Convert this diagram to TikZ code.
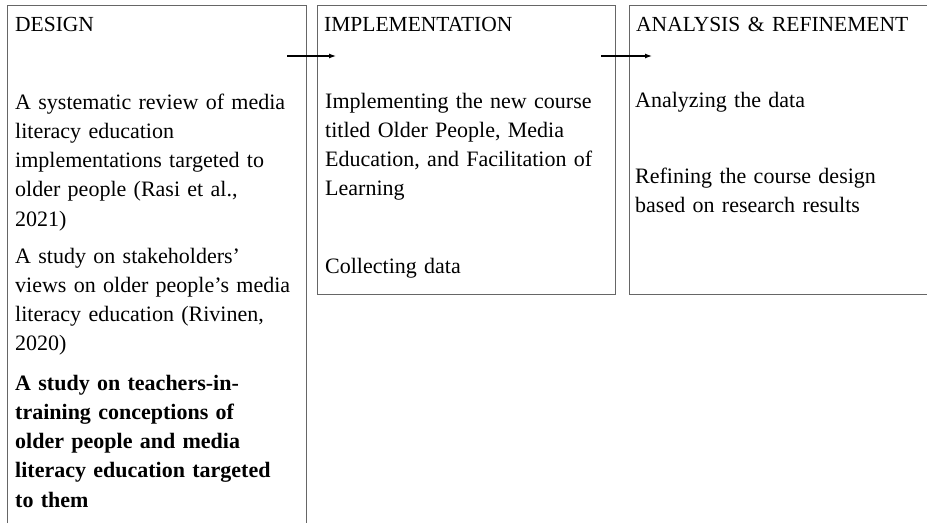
\documentclass[tikz,border=0pt]{standalone}
\usepackage{fontspec}
\setmainfont{Liberation Serif}[WordSpace=1.4]
\usetikzlibrary{arrows.meta}
\begin{document}
\begin{tikzpicture}[x=1pt,y=-1pt,
  frame/.style={draw=black!60,line width=1pt},
  txt/.style={anchor=base west,inner sep=0pt,text width=300pt,align=left,font=\fontsize{22}{29.3}\selectfont},
  boldtxt/.style={txt,font=\fontsize{22}{29.3}\selectfont\bfseries},
  head/.style={anchor=base west,inner sep=0pt,font=\fontsize{21.5}{26}\selectfont},
  flow/.style={-{Latex[length=7pt,width=5pt]},line width=1.2pt}]
\useasboundingbox (0,0) rectangle (927,523);
% frames
\draw[frame] (7,523) -- (7,5) -- (306,5) -- (306,523);
\draw[frame] (317,5) rectangle (615,294);
\draw[frame] (927,5) -- (629,5) -- (629,294) -- (927,294);
% headers
\node[head] (hd) at (15,31) {DESIGN};
\node[head] (hi) at (324,31) {IMPLEMENTATION};
\node[head] (ha) at (636,31) {ANALYSIS \& REFINEMENT};
% design
\node[txt] (d1) at (15,109) {A systematic review of media\\literacy education\\implementations targeted to\\older people (Rasi et al.,\\2021)};
\node[txt] (d2) at (15,263) {A study on stakeholders’\\views on older people’s media\\literacy education (Rivinen,\\2020)};
\node[boldtxt] (d3) at (15,390) {A study on teachers-in-\\training conceptions of\\older people and media\\literacy education targeted\\to them};
% implementation
\node[txt] (i1) at (325,108) {Implementing the new course\\titled Older People, Media\\Education, and Facilitation of\\Learning};
\node[txt] (i2) at (325,273) {Collecting data};
% analysis
\node[txt] (a1) at (635,107) {Analyzing the data};
\node[txt] (a2) at (635,183) {Refining the course design\\based on research results};
% arrows
\coordinate (s1) at (287,56);
\coordinate (e1) at (336,56);
\coordinate (s2) at (601,56);
\coordinate (e2) at (652,56);
\draw[flow] (s1) -- (e1);
\draw[flow] (s2) -- (e2);
\end{tikzpicture}
\end{document}
